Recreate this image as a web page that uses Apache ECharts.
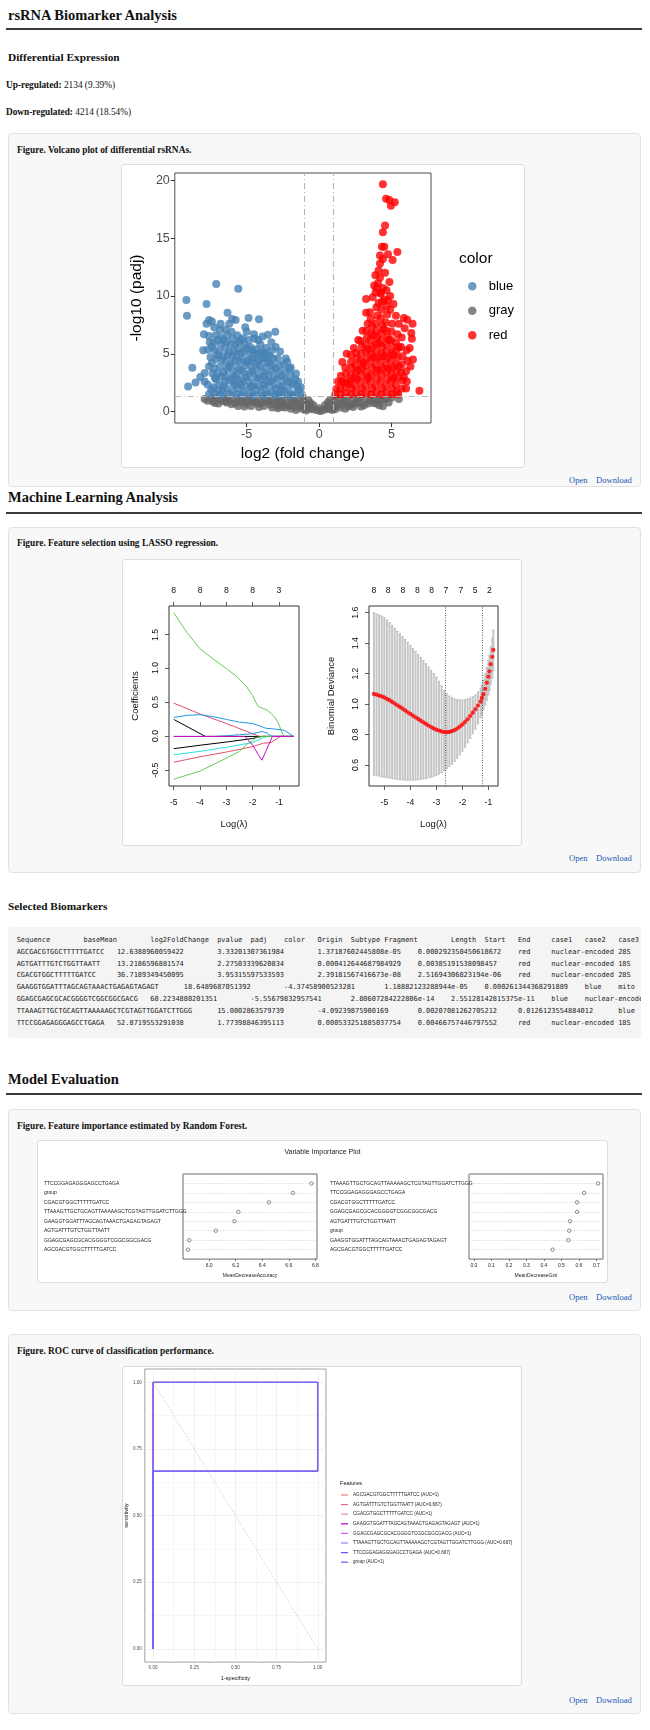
<!DOCTYPE html>
<html><head><meta charset="utf-8">
<script src="https://cdn.jsdelivr.net/npm/echarts@6/dist/echarts.min.js"></script>
<style>
*{box-sizing:border-box;}
html,body{margin:0;padding:0;background:#fff;}
body{position:relative;width:650px;height:1730px;overflow:hidden;font-family:"Liberation Serif","Times New Roman",serif;color:#111;}
.t{position:absolute;white-space:nowrap;line-height:20px;height:20px;}
.h1{font-size:14.5px;font-weight:bold;}
.h3{font-size:11.3px;font-weight:bold;}
.p{font-size:9.3px;}
.rule{position:absolute;left:6px;width:636px;height:2px;background:#3a3a3a;}
.card{position:absolute;left:8px;width:633px;background:#f8f8f8;border:1px solid #e2e2e2;border-radius:4px;}
.cap{font-size:9.4px;font-weight:bold;}
.img{position:absolute;background:#fff;border:1px solid #dcdcdc;border-radius:3px;}
.chart{position:absolute;}
.lnk{font-size:8.6px;color:#2458b3;}
.ylab{position:absolute;font-family:"Liberation Sans",Arial,sans-serif;font-size:8.6px;line-height:10px;color:#111;white-space:nowrap;transform:translate(-50%,-50%) rotate(-90deg);z-index:5;}
#bio{position:absolute;left:8px;top:927px;width:633px;height:111px;margin:0;background:#f4f4f4;border-radius:4px;
 padding:8px 0 0 8.7px;font-family:"DejaVu Sans Mono",monospace;font-size:6.94px;line-height:11.8px;tab-size:8;-moz-tab-size:8;white-space:pre;overflow:hidden;color:#222;}
</style></head>
<body>
<div class="t h1" style="left:8px;top:5px;">rsRNA Biomarker Analysis</div>
<div class="rule" style="top:28px;"></div>
<div class="t h3" style="left:8px;top:47px;">Differential Expression</div>
<div class="t p" style="left:6px;top:75px;"><b>Up-regulated:</b> 2134 (9.39%)</div>
<div class="t p" style="left:6px;top:102px;"><b>Down-regulated:</b> 4214 (18.54%)</div>

<div class="card" style="top:133px;height:354px;"></div>
<div class="t cap" style="left:17px;top:140px;">Figure. Volcano plot of differential rsRNAs.</div>
<div class="img" style="left:121px;top:164px;width:404px;height:304px;"></div>
<div id="c1" class="chart" style="left:121px;top:164px;width:404px;height:304px;"></div>
<div class="t lnk" style="left:569px;top:470px;">Open</div>
<div class="t lnk" style="left:596px;top:470px;">Download</div>

<div class="t h1" style="left:8px;top:487px;">Machine Learning Analysis</div>
<div class="rule" style="top:512px;"></div>
<div class="card" style="top:527px;height:346px;"></div>
<div class="t cap" style="left:17px;top:533px;">Figure. Feature selection using LASSO regression.</div>
<div class="img" style="left:122px;top:559px;width:400px;height:287px;"></div>
<div id="c2" class="chart" style="left:122px;top:559px;width:400px;height:287px;"></div>
<div class="t lnk" style="left:569px;top:848px;">Open</div>
<div class="t lnk" style="left:596px;top:848px;">Download</div>

<div class="t h3" style="left:8px;top:896px;">Selected Biomarkers</div>
<pre id="bio"></pre>

<div class="t h1" style="left:8px;top:1069px;">Model Evaluation</div>
<div class="rule" style="top:1093px;"></div>
<div class="card" style="top:1109px;height:202px;"></div>
<div class="t cap" style="left:17px;top:1116px;">Figure. Feature importance estimated by Random Forest.</div>
<div class="img" style="left:37px;top:1140px;width:571px;height:143px;"></div>
<div id="c3" class="chart" style="left:37px;top:1140px;width:571px;height:143px;"></div>
<div class="t lnk" style="left:569px;top:1287px;">Open</div>
<div class="t lnk" style="left:596px;top:1287px;">Download</div>

<div class="card" style="top:1334px;height:380px;"></div>
<div class="t cap" style="left:17px;top:1341px;">Figure. ROC curve of classification performance.</div>
<div class="img" style="left:122px;top:1366px;width:400px;height:320px;"></div>
<div id="c4" class="chart" style="left:122px;top:1366px;width:400px;height:320px;"></div>
<div class="t lnk" style="left:569px;top:1690px;">Open</div>
<div class="t lnk" style="left:596px;top:1690px;">Download</div>

<script>
// ---------------- Volcano data ----------------
const volcanoXTicks = [-5, 0, 5];
const volcanoYTicks = [0, 5, 10, 15, 20];
const volcanoFcCut = [-1, 1];
const volcanoPadjCut = [1.3];
const volcanoGroups = ['blue', 'gray', 'red'];
const volcanoGray = [[-7.9,1.1],[-7.4,1.2],[-7.35,0.9],[-6.9,1.0],[-6.95,0.7],[-6.45,1.15],[-6.4,0.8],[-6.0,1.05],[-6.05,0.65],[-5.55,1.2],[-5.5,0.85],[-5.6,0.5],[-5.1,1.1],[-5.05,0.7],[-5.15,0.45],[-4.65,1.2],[-4.6,0.85],[-4.7,0.5],[-4.2,1.05],[-4.25,0.7],[-4.15,0.4],[-3.75,1.2],[-3.7,0.85],[-3.8,0.5],[-3.3,1.05],[-3.35,0.65],[-3.25,0.35],[-2.85,1.2],[-2.8,0.9],[-2.9,0.5],[-2.85,0.3],[-2.4,1.05],[-2.45,0.7],[-2.35,0.35],[-1.95,1.2],[-1.9,0.85],[-2.0,0.5],[-1.95,0.25],[-1.5,1.05],[-1.55,0.7],[-1.45,0.35],[-1.1,1.2],[-1.05,0.85],[-1.15,0.5],[-1.1,0.2],[-0.75,1.0],[-0.8,0.6],[-0.7,0.25],[-0.4,0.55],[-0.45,0.2],[0.0,0.3],[0.05,0.05],[0.4,0.55],[0.45,0.2],[0.75,1.0],[0.8,0.6],[0.7,0.25],[1.1,1.25],[1.05,0.85],[1.15,0.45],[1.1,0.2],[1.5,1.1],[1.55,0.7],[1.45,0.35],[1.95,1.2],[1.9,0.85],[2.0,0.45],[2.4,1.1],[2.45,0.7],[2.35,0.4],[2.85,1.2],[2.8,0.8],[2.9,0.45],[3.3,1.05],[3.35,0.7],[3.75,1.15],[3.7,0.75],[4.2,1.0],[4.15,0.55],[4.6,1.1],[5.0,1.2],[5.5,1.1],[4.06,0.98],[4.4,0.46],[4.5,1.1],[-7.1,1.15],[-6.43,0.9],[-0.2,0.15],[0.2,0.1],[-0.55,0.4],[0.6,0.4],[-0.95,0.45],[0.95,0.5],
[-7.7,0.95],[-7.2,0.75],[-6.7,0.95],[-6.2,0.9],[-5.8,0.75],[-5.3,0.95],[-4.9,0.9],[-4.4,0.85],[-4.0,0.75],[-3.5,0.95],[-3.1,0.8],[-2.6,0.85],[-2.2,0.55],[-1.7,0.9],[-1.3,0.6],[-0.9,0.1],[-0.6,0.75],[0.6,0.8],[0.9,0.15],[1.3,0.6],[1.7,0.95],[2.2,0.6],[2.6,0.9],[3.1,0.55],[3.5,0.95],[3.95,0.7],[4.8,0.8],[-1.6,0.15],[-2.6,0.4],[1.8,0.25]];
const volcanoBlue = [[-9.16,9.66],[-9.12,8.3],[-7.1,11.03],[-5.58,10.63],[-7.77,9.31],[-8.75,3.8],[-9.04,2.18],[-8.53,2.53],[-6.32,8.56],[-5.76,7.93],[-4.87,8.1],[-4.15,7.99],[-3.03,6.9],[-3.53,6.64],[-1.96,3.82],[-7.59,7.93],[-7.77,7.6],[-7.9,3.35],[-7.35,3.3],[-7.7,2.35],[-7.1,2.78],[-6.43,3.07],[-7.6,1.5],[-6.65,1.7],
[-7.62,6.55],[-7.55,6.0],[-7.68,5.35],[-7.5,4.7],[-7.6,3.9],
[-7.25,7.3],[-7.15,6.6],[-7.3,5.95],[-7.2,5.3],[-7.1,4.55],[-7.25,3.7],[-7.2,2.9],[-7.3,2.1],[-7.15,1.55],
[-6.85,7.05],[-6.75,6.4],[-6.8,5.8],[-6.9,5.15],[-6.7,4.5],[-6.85,3.9],[-6.75,3.05],[-6.9,2.3],[-6.8,1.45],
[-6.45,7.1],[-6.35,6.6],[-6.4,6.0],[-6.5,5.5],[-6.3,4.9],[-6.45,4.3],[-6.35,3.7],[-6.5,2.6],[-6.4,2.0],
[-6.05,6.9],[-5.95,6.3],[-6.1,5.8],[-5.9,5.2],[-6.0,4.7],[-6.1,4.1],[-5.95,3.5],[-6.05,2.9],[-5.9,2.3],[-6.0,1.7],
[-5.65,6.6],[-5.55,6.0],[-5.6,5.45],[-5.7,4.9],[-5.5,4.35],[-5.6,3.8],[-5.7,3.2],[-5.5,2.6],[-5.6,2.0],[-5.65,1.5],
[-5.25,6.35],[-5.15,5.8],[-5.2,5.2],[-5.3,4.6],[-5.1,4.0],[-5.2,3.4],[-5.3,2.8],[-5.1,2.2],[-5.2,1.65],
[-4.85,6.2],[-4.75,5.6],[-4.8,5.0],[-4.9,4.45],[-4.7,3.9],[-4.8,3.3],[-4.9,2.7],[-4.7,2.1],[-4.8,1.6],
[-4.45,6.3],[-4.35,5.4],[-4.4,4.9],[-4.5,4.3],[-4.3,3.7],[-4.4,3.1],[-4.5,2.5],[-4.3,1.9],[-4.4,1.45],
[-4.05,5.8],[-3.95,5.2],[-4.0,4.6],[-4.1,4.0],[-3.9,3.4],[-4.0,2.8],[-4.1,2.2],[-3.95,1.6],
[-3.65,5.5],[-3.55,4.9],[-3.6,4.3],[-3.7,3.8],[-3.5,3.2],[-3.6,2.6],[-3.7,2.0],[-3.55,1.5],
[-3.25,5.3],[-3.15,4.6],[-3.2,4.0],[-3.3,3.5],[-3.1,2.9],[-3.2,2.3],[-3.3,1.7],
[-2.85,4.6],[-2.75,4.0],[-2.8,3.4],[-2.9,2.8],[-2.7,2.2],[-2.8,1.6],
[-2.45,4.1],[-2.35,3.5],[-2.4,2.9],[-2.5,2.3],[-2.35,1.7],
[-2.05,3.7],[-1.95,3.1],[-2.0,2.5],[-2.1,1.9],[-1.95,1.45],
[-1.65,2.8],[-1.55,2.2],[-1.6,1.6],[-1.25,2.1],[-1.2,1.5],
[-7.95,6.7],[-8.0,5.3],[-6.0,8.0],[-6.8,7.6],[-5.1,7.3],[-4.5,6.7],[-3.9,6.5],[-3.3,6.0],[-2.7,5.2],[-2.3,4.6],[-1.6,3.3],[-5.0,6.9],[-6.2,7.6],[-7.4,7.8],[-4.2,6.2],[-3.0,5.6],[-2.2,4.3],[-1.45,2.6],[-7.9,2.6],[-7.0,3.3],[-6.6,2.2],[-5.8,2.4],[-8.2,3.0],[-7.45,1.9],[-6.95,1.8],[-6.2,1.5],[-5.3,1.45],[-4.6,1.4],[-3.8,1.4],[-3.0,1.42],[-2.55,1.4],[-1.8,1.4],[-1.4,1.9],
[-6.6,4.8],[-6.6,3.4],[-6.2,5.2],[-6.2,3.9],[-6.2,2.7],[-5.8,4.4],[-5.8,3.0],[-5.4,5.1],[-5.4,3.6],[-5.4,2.3],[-5.0,4.3],[-5.0,3.0],[-4.6,4.6],[-4.6,3.5],[-4.6,2.2],[-4.2,4.3],[-4.2,2.9],[-3.8,4.6],[-3.8,3.1],[-3.8,2.3],[-3.4,4.2],[-3.4,2.6],[-3.0,3.7],[-3.0,2.0],[-2.6,3.1],[-2.6,1.9],[-2.2,2.6],[-1.8,2.4],[-7.0,6.2],[-7.0,4.9],[-7.4,5.6],[-7.4,4.2],[-6.6,6.2],[-5.8,5.8],[-5.4,6.2],[-5.0,5.5],[-4.6,5.3],[-4.2,5.0],[-3.8,5.1],[-3.4,4.8]];
const volcanoRed = [[1.12,1.5],[1.18,1.95],
[1.5,1.5],[1.45,2.0],[1.55,2.6],[1.5,3.1],
[1.85,1.6],[1.8,2.1],[1.9,2.7],[1.85,3.3],[1.8,3.8],
[2.2,1.5],[2.25,2.0],[2.15,2.6],[2.2,3.2],[2.25,3.8],[2.2,4.3],
[2.55,1.6],[2.5,2.2],[2.6,2.8],[2.55,3.4],[2.5,4.0],[2.6,4.6],[2.55,5.1],
[2.9,1.5],[2.95,2.0],[2.85,2.6],[2.9,3.2],[2.95,3.8],[2.85,4.4],[2.9,5.0],[2.95,5.6],[2.85,6.1],
[3.25,1.6],[3.2,2.2],[3.3,2.8],[3.25,3.4],[3.2,4.0],[3.3,4.6],[3.25,5.2],[3.2,5.8],[3.3,6.4],[3.25,7.0],
[3.6,1.5],[3.65,2.0],[3.55,2.6],[3.6,3.2],[3.65,3.8],[3.55,4.4],[3.6,5.0],[3.65,5.6],[3.55,6.2],[3.6,6.8],[3.65,7.4],[3.55,8.0],
[3.95,1.6],[3.9,2.2],[4.0,2.8],[3.95,3.4],[3.9,4.0],[4.0,4.6],[3.95,5.2],[3.9,5.8],[4.0,6.4],[3.95,7.0],[3.9,7.6],[4.0,8.3],[3.95,9.0],
[4.3,1.5],[4.35,2.0],[4.25,2.6],[4.3,3.2],[4.35,3.8],[4.25,4.4],[4.3,5.0],[4.35,5.6],[4.25,6.2],[4.3,6.8],[4.35,7.5],[4.25,8.1],[4.3,8.8],[4.35,9.5],[4.25,10.2],
[4.65,1.6],[4.6,2.2],[4.7,2.8],[4.65,3.4],[4.6,4.0],[4.7,4.6],[4.65,5.2],[4.6,5.8],[4.7,6.4],[4.65,7.0],[4.6,7.7],[4.7,8.4],[4.65,9.1],
[5.0,1.5],[5.05,2.0],[4.95,2.6],[5.0,3.2],[5.05,3.8],[4.95,4.4],[5.0,5.0],[5.05,5.6],[4.95,6.2],[5.0,6.9],[5.05,7.6],
[5.35,1.7],[5.3,2.3],[5.4,2.9],[5.35,3.5],[5.3,4.1],[5.4,4.7],[5.35,5.3],[5.3,6.0],[5.4,6.7],
[5.7,2.0],[5.75,2.7],[5.65,3.4],[5.7,4.1],[5.75,4.8],[5.65,5.6],[5.7,6.4],
[6.05,2.6],[6.0,3.5],[6.1,4.4],[6.05,5.3],
[4.4,19.65],[4.62,18.4],[4.84,18.3],[5.22,18.1],[4.95,17.8],[4.55,16.1],[4.4,15.5],[4.33,14.25],[4.5,14.25],[5.4,13.8],[4.2,13.5],[4.75,13.6],[5.07,13.1],[4.4,13.2],[4.2,12.8],[3.88,11.8],[4.2,11.6],[4.06,11.1],[3.97,10.7],[4.4,10.7],[4.25,10.3],[3.24,9.74],[4.5,9.7],[5.13,9.3],[4.75,9.6],[3.24,8.55],[5.85,8.1],[6.08,7.95],[6.45,7.6],[6.36,6.8],[6.47,4.5],[6.25,5.5],[6.92,1.8],[5.45,1.5],[3.7,9.9],[4.1,9.4],[3.5,8.6],[4.9,8.8],[5.5,7.6],[3.0,7.0],[2.7,6.2],[2.2,4.9],[1.6,4.3],[1.9,5.0],[3.9,10.3],[4.65,10.5],[4.85,11.2],[5.3,8.3],[5.9,7.2],[6.4,6.3],[6.3,3.9],[6.0,2.0],[4.1,12.2],[4.55,12.0],[3.8,10.9],[4.9,10.0],[3.35,7.6],[2.4,5.5],[1.3,2.6],
[2.4,2.9],[2.7,3.6],[3.05,4.2],[3.4,3.0],[3.4,5.4],[3.75,4.7],[3.75,6.6],[4.1,3.6],[4.1,5.9],[4.45,4.8],[4.45,7.1],[4.8,3.7],[4.8,6.2],[5.15,4.9],[5.15,2.9],[5.5,3.9],[5.5,5.6],[5.85,3.0],[2.05,2.4],[1.7,2.5]];

// ---------------- LASSO data ----------------
const lassoXTicks = [-5, -4, -3, -2, -1];
const lassoTopPos = [-5, -4, -3, -2, -1];
const lassoTopLabels = ['8', '8', '8', '8', '3'];
const lassoYTicks = [-0.5, 0, 0.5, 1, 1.5];
const lassoColors = ['#000000','#DF536B','#61D04F','#2297E6','#28E2E5','#CD0BBC','#000000','#DF536B','#61D04F','#2297E6'];
const lassoPath1 = [[-5,0.25],[-3.8,0],[-0.44,0]];
const lassoPath2 = [[-5,0.49],[-4,0.33],[-3,0.19],[-2.2,0.07],[-1.75,0],[-0.44,0]];
const lassoPath3 = [[-5,1.82],[-4.5,1.53],[-4.0,1.29],[-3.5,1.14],[-3.0,1.0],[-2.6,0.88],[-2.23,0.73],[-2.0,0.6],[-1.85,0.48],[-1.78,0.44],[-1.6,0.41],[-1.46,0.39],[-1.3,0.34],[-1.14,0.27],[-1.03,0.2],[-0.95,0.12],[-0.88,0.05],[-0.82,0],[-0.44,0]];
const lassoPath4 = [[-5,0.28],[-4.5,0.31],[-4,0.32],[-3.5,0.29],[-3,0.25],[-2.5,0.21],[-2,0.19],[-1.7,0.15],[-1.5,0.12],[-1.2,0.11],[-0.8,0.09],[-0.44,0]];
const lassoPath5 = [[-5,-0.27],[-4,-0.22],[-3,-0.16],[-2,-0.09],[-1.6,-0.02],[-1.45,0],[-0.44,0]];
const lassoPath6 = [[-5,0],[-2.3,0],[-2.0,-0.13],[-1.8,-0.26],[-1.65,-0.35],[-1.5,-0.22],[-1.25,0],[-0.44,0]];
const lassoPath7 = [[-5,-0.18],[-4,-0.13],[-3,-0.083],[-2,-0.03],[-1.65,0],[-0.44,0]];
const lassoPath8 = [[-5,-0.38],[-4,-0.3],[-3,-0.23],[-2,-0.15],[-1.6,-0.1],[-1.3,-0.09],[-0.95,0],[-0.44,0]];
const lassoPath9 = [[-5,-0.63],[-4,-0.51],[-3,-0.32],[-2.5,-0.22],[-2.23,-0.12],[-2,-0.06],[-1.85,-0.015],[-1.6,0],[-0.44,0]];
const lassoPath10 = [[-5,0],[-3.5,0],[-3,0.01],[-2.5,0.025],[-2,0.04],[-1.65,0.073],[-1.45,0.05],[-1.27,0],[-0.44,0]];
const lassoPaths = [lassoPath1,lassoPath2,lassoPath3,lassoPath4,lassoPath5,lassoPath6,lassoPath7,lassoPath8,lassoPath9,lassoPath10];

const cvXTicks = [-5, -4, -3, -2, -1];
const cvYTicks = [0.6, 0.8, 1.0, 1.2, 1.4, 1.6];
const cvTopPos = [-5.40, -4.85, -4.29, -3.73, -3.18, -2.63, -2.06, -1.51, -0.96];
const cvTopLabels = ['8','8','8','8','8','7','7','5','2'];
const cvLambdaLines = [-2.65, -1.23];
const cvLogLambda = [-5.4,-5.3,-5.2,-5.1,-5.0,-4.9,-4.8,-4.7,-4.6,-4.5,-4.4,-4.3,-4.2,-4.1,-4.0,-3.9,-3.8,-3.7,-3.6,-3.5,-3.4,-3.3,-3.2,-3.1,-3.0,-2.9,-2.8,-2.7,-2.6,-2.5,-2.4,-2.3,-2.2,-2.1,-2.0,-1.9,-1.8,-1.7,-1.6,-1.5,-1.4,-1.3,-1.25,-1.19,-1.12,-1.06,-1.0,-0.96,-0.91,-0.85,-0.81];
const cvMean = [1.066,1.062,1.056,1.050,1.043,1.034,1.025,1.014,1.003,0.992,0.981,0.970,0.958,0.946,0.935,0.924,0.913,0.902,0.891,0.880,0.869,0.859,0.849,0.840,0.832,0.826,0.820,0.816,0.815,0.817,0.822,0.829,0.839,0.852,0.866,0.882,0.900,0.921,0.943,0.966,0.990,1.016,1.040,1.065,1.100,1.140,1.180,1.215,1.262,1.310,1.355];
const cvUpper = [1.600,1.592,1.585,1.578,1.568,1.552,1.535,1.516,1.497,1.478,1.462,1.443,1.425,1.405,1.386,1.366,1.346,1.326,1.306,1.286,1.265,1.243,1.222,1.200,1.177,1.150,1.120,1.090,1.068,1.053,1.042,1.034,1.029,1.027,1.027,1.029,1.034,1.040,1.048,1.060,1.080,1.105,1.125,1.158,1.200,1.240,1.285,1.320,1.375,1.430,1.486];
const cvLower = [0.534,0.530,0.527,0.522,0.519,0.516,0.514,0.511,0.508,0.505,0.503,0.502,0.500,0.500,0.500,0.500,0.502,0.503,0.505,0.508,0.511,0.515,0.520,0.525,0.532,0.540,0.550,0.562,0.575,0.590,0.605,0.623,0.644,0.666,0.690,0.716,0.745,0.775,0.805,0.836,0.870,0.910,0.935,0.962,0.992,1.025,1.060,1.090,1.130,1.170,1.220];

// ---------------- Table data ----------------
const bioHeader = ['Sequence','baseMean','log2FoldChange','pvalue','padj','color','Origin','Subtype','Fragment','Length','Start','End','case1','case2','case3'];
const bioRow1 = ['AGCGACGTGGCTTTTTGATCC','12.6388960059422','3.33201307361984','1.37187602445808e-05','0.000292350450618672','red','nuclear-encoded','28S'];
const bioRow2 = ['AGTGATTTGTCTGGTTAATT','13.2186596881574','2.27503339620834','0.000412644687984929','0.00385191538098457','red','nuclear-encoded','18S'];
const bioRow3 = ['CGACGTGGCTTTTTGATCC','36.7189349450095','3.95315597533593','2.39181567416673e-08','2.51694306823194e-06','red','nuclear-encoded','28S'];
const bioRow4 = ['GAAGGTGGATTTAGCAGTAAACTGAGAGTAGAGT','18.6489687051392','-4.37458900523281','1.18882123288944e-05','0.000261344368291889','blue','mito'];
const bioRow5 = ['GGAGCGAGCGCACGGGGTCGGCGGCGACG','60.2234880201351','-5.55679832957541','2.80607284222806e-14','2.55128142815375e-11','blue','nuclear-encoded'];
const bioRow6 = ['TTAAAGTTGCTGCAGTTAAAAAGCTCGTAGTTGGATCTTGGG','15.0002863579739','-4.09239875900169','0.00207081262705212','0.0126123554884012','blue'];
const bioRow7 = ['TTCCGGAGAGGGAGCCTGAGA','52.8719553291038','1.77398846395113','0.000533251885037754','0.00466757446797552','red','nuclear-encoded','18S'];

// ---------------- Random forest data ----------------
const rfAccNames = ['TTCCGGAGAGGGAGCCTGAGA','group','CGACGTGGCTTTTTGATCC','TTAAAGTTGCTGCAGTTAAAAAGCTCGTAGTTGGATCTTGGG','GAAGGTGGATTTAGCAGTAAACTGAGAGTAGAGT','AGTGATTTGTCTGGTTAATT','GGAGCGAGCGCACGGGGTCGGCGGCGACG','AGCGACGTGGCTTTTTGATCC'];
const rfAccValues = [6.77, 6.63, 6.45, 6.22, 6.19, 6.05, 5.85, 5.84];
const rfGiniNames = ['TTAAAGTTGCTGCAGTTAAAAAGCTCGTAGTTGGATCTTGGG','TTCCGGAGAGGGAGCCTGAGA','CGACGTGGCTTTTTGATCC','GGAGCGAGCGCACGGGGTCGGCGGCGACG','AGTGATTTGTCTGGTTAATT','group','GAAGGTGGATTTAGCAGTAAACTGAGAGTAGAGT','AGCGACGTGGCTTTTTGATCC'];
const rfGiniValues = [0.71, 0.63, 0.59, 0.59, 0.55, 0.545, 0.54, 0.45];
const rfAccTicks = [6.0, 6.2, 6.4, 6.6, 6.8];
const rfGiniTicks = [0, 0.1, 0.2, 0.3, 0.4, 0.5, 0.6, 0.7];

// ---------------- ROC data ----------------
const rocFeatures = ['AGCGACGTGGCTTTTTGATCC','AGTGATTTGTCTGGTTAATT','CGACGTGGCTTTTTGATCC','GAAGGTGGATTTAGCAGTAAACTGAGAGTAGAGT','GGAGCGAGCGCACGGGGTCGGCGGCGACG','TTAAAGTTGCTGCAGTTAAAAAGCTCGTAGTTGGATCTTGGG','TTCCGGAGAGGGAGCCTGAGA','group'];
const rocAuc = ['1','0.667','1','1','1','0.667','0.667','1'];
const rocColors = ['#F08C8C','#E0708A','#EE90C8','#BA10CC','#C86AF2','#A08CF2','#5E58FF','#6A6AFF'];
const rocFpr = [[0,0,1],[0,0,1,1],[0,0,1],[0,0,1],[0,0,1],[0,0,1,1],[0,0,1,1],[0,0,1]];
const rocTpr = [[0,1,1],[0,0.667,0.667,1],[0,1,1],[0,1,1],[0,1,1],[0,0.667,0.667,1],[0,0.667,0.667,1],[0,1,1]];
const rocChance = [[0,1],[1,0]];
const rocTicks = [0, 0.25, 0.5, 0.75, 1];
const rocGridVals = [0, 0.125, 0.25, 0.375, 0.5, 0.625, 0.75, 0.875, 1];

// ====================================================
const SANS = '"Liberation Sans", Arial, sans-serif';

document.getElementById('bio').textContent =
  [bioHeader, bioRow1, bioRow2, bioRow3, bioRow4, bioRow5, bioRow6, bioRow7].map(r => r.join('\t')).join('\n');

// ---------- Volcano ----------
(function(){
  const ch = echarts.init(document.getElementById('c1'));
  ch.setOption({
    animation: false,
    textStyle: {fontFamily: SANS},
    grid: {left: 47, top: 9, width: 263, height: 250, show: true, borderColor: '#4d4d4d', borderWidth: 1, backgroundColor: 'transparent'},
    title: {text: 'color', left: 333, top: 82, textStyle: {fontSize: 15.5, fontWeight: 'normal', color: '#000', fontFamily: SANS}},
    legend: {orient: 'vertical', left: 342, top: 110, data: volcanoGroups, icon: 'circle', itemWidth: 8.5, itemHeight: 8.5, itemGap: 10,
      formatter: '  {name}', textStyle: {fontSize: 13, color: '#000', lineHeight: 14.5, fontFamily: SANS}},
    xAxis: {type: 'value', min: -9.96, max: 7.72, name: 'log2 (fold change)', nameLocation: 'middle', nameGap: 22,
      nameTextStyle: {fontSize: 15.5, color: '#000'},
      axisLine: {show: false, onZero: false}, splitLine: {show: false},
      axisTick: {customValues: volcanoXTicks, length: 4, lineStyle: {color: '#333'}},
      axisLabel: {customValues: volcanoXTicks, fontSize: 12.5, color: '#4d4d4d', margin: 5}},
    yAxis: {type: 'value', min: -0.98, max: 20.63, name: '-log10 (padj)', nameLocation: 'middle', nameGap: 24,
      nameTextStyle: {fontSize: 15.5, color: '#000'},
      axisLine: {show: false, onZero: false}, splitLine: {show: false},
      axisTick: {customValues: volcanoYTicks, length: 4, lineStyle: {color: '#333'}},
      axisLabel: {customValues: volcanoYTicks, fontSize: 12.5, color: '#4d4d4d', margin: 5}},
    series: [
      {type: 'scatter', name: 'gray', data: volcanoGray, symbolSize: 8, itemStyle: {color: '#666666', opacity: 0.8}},
      {type: 'scatter', name: 'blue', data: volcanoBlue, symbolSize: 8, itemStyle: {color: '#4682B4', opacity: 0.8}},
      {type: 'scatter', name: 'red', data: volcanoRed, symbolSize: 8, itemStyle: {color: '#FF0000', opacity: 0.8},
        markLine: {silent: true, symbol: 'none', label: {show: false}, animation: false,
          lineStyle: {color: '#b5b5b5', type: [6, 3, 1, 3], width: 1.1},
          data: volcanoFcCut.map(v => ({xAxis: v})).concat(volcanoPadjCut.map(v => ({yAxis: v})))}}
    ]
  });
})();

// ---------- LASSO ----------
(function(){
  const el = document.getElementById('c2');
  const ch = echarts.init(el);
  const lab = (pos, labels) => v => { const i = pos.findIndex(p => Math.abs(p - v) < 1e-6); return i >= 0 ? labels[i] : ''; };
  const tickStyle = {length: 4, lineStyle: {color: '#333', width: 0.8}};
  const noLine = {show: false, onZero: false};
  const fs = 8.6;
  const series = lassoPaths.map((p, i) => ({type: 'line', data: p, xAxisIndex: 0, yAxisIndex: 0, symbol: 'none',
      lineStyle: {color: lassoColors[i], width: 1}, z: 2 + (i === 5 ? 1 : 0)}));
  series.push({type: 'custom', xAxisIndex: 2, yAxisIndex: 1, encode: {x: 0, y: [1, 2]},
    data: cvLogLambda.map((x, i) => [x, cvLower[i], cvUpper[i]]),
    renderItem: (params, api) => {
      const x = api.value(0), p1 = api.coord([x, api.value(1)]), p2 = api.coord([x, api.value(2)]);
      return {type: 'group', children: [
        {type: 'line', shape: {x1: p1[0], y1: p1[1], x2: p2[0], y2: p2[1]}, style: {stroke: '#c6c6c6', lineWidth: 2}},
        {type: 'line', shape: {x1: p1[0] - 1.2, y1: p1[1], x2: p1[0] + 1.2, y2: p1[1]}, style: {stroke: '#b0b0b0', lineWidth: 0.7}},
        {type: 'line', shape: {x1: p2[0] - 1.2, y1: p2[1], x2: p2[0] + 1.2, y2: p2[1]}, style: {stroke: '#b0b0b0', lineWidth: 0.7}}
      ]};
    }});
  series.push({type: 'scatter', xAxisIndex: 2, yAxisIndex: 1, data: cvLogLambda.map((x, i) => [x, cvMean[i]]),
    symbolSize: 4.3, itemStyle: {color: '#ff0000'}, z: 5,
    markLine: {silent: true, symbol: 'none', label: {show: false}, lineStyle: {color: '#333', type: [1, 1.5], width: 0.8},
      data: cvLambdaLines.map(v => ({xAxis: v}))}});
  ch.setOption({
    animation: false,
    textStyle: {fontFamily: SANS},
    grid: [
      {left: 47, top: 47, width: 130, height: 180, show: true, borderColor: '#333', borderWidth: 1},
      {left: 247, top: 47, width: 129, height: 180, show: true, borderColor: '#333', borderWidth: 1}
    ],
    xAxis: [
      {gridIndex: 0, type: 'value', position: 'bottom', min: -5.18, max: -0.24, name: 'Log(λ)', nameLocation: 'middle', nameGap: 33,
        nameTextStyle: {fontSize: 9.5, color: '#111'}, axisLine: noLine, splitLine: {show: false},
        axisTick: Object.assign({customValues: lassoXTicks}, tickStyle),
        axisLabel: {customValues: lassoXTicks, fontSize: fs, color: '#111', margin: 12}},
      {gridIndex: 0, type: 'value', position: 'top', min: -5.18, max: -0.24, axisLine: noLine, splitLine: {show: false},
        axisTick: Object.assign({customValues: lassoTopPos}, tickStyle),
        axisLabel: {customValues: lassoTopPos, formatter: lab(lassoTopPos, lassoTopLabels), fontSize: fs, color: '#111', margin: 11}},
      {gridIndex: 1, type: 'value', position: 'bottom', min: -5.59, max: -0.63, name: 'Log(λ)', nameLocation: 'middle', nameGap: 33,
        nameTextStyle: {fontSize: 9.5, color: '#111'}, axisLine: noLine, splitLine: {show: false},
        axisTick: Object.assign({customValues: cvXTicks}, tickStyle),
        axisLabel: {customValues: cvXTicks, fontSize: fs, color: '#111', margin: 12}},
      {gridIndex: 1, type: 'value', position: 'top', min: -5.59, max: -0.63, axisLine: noLine, splitLine: {show: false},
        axisTick: {show: false},
        axisLabel: {customValues: cvTopPos, formatter: lab(cvTopPos, cvTopLabels), fontSize: fs, color: '#111', margin: 11}}
    ],
    yAxis: [
      {gridIndex: 0, type: 'value', position: 'left', min: -0.73, max: 1.92, name: 'Coefficients', nameLocation: 'middle', nameGap: 29,
        nameTextStyle: {fontSize: 9.5, color: '#111'}, axisLine: noLine, splitLine: {show: false},
        axisTick: Object.assign({customValues: lassoYTicks}, tickStyle),
        axisLabel: {show: false}},
      {gridIndex: 1, type: 'value', position: 'left', min: 0.462, max: 1.644, name: 'Binomial Deviance', nameLocation: 'middle', nameGap: 33,
        nameTextStyle: {fontSize: 9.5, color: '#111'}, axisLine: noLine, splitLine: {show: false},
        axisTick: Object.assign({customValues: cvYTicks}, tickStyle),
        axisLabel: {customValues: cvYTicks, rotate: 90, formatter: v => v.toFixed(1), fontSize: fs, color: '#111', margin: 9}}
    ],
    series: series
  });
  // tick labels of the coefficient axis, positioned through the axis scale
  const xLeft = ch.convertToPixel({xAxisIndex: 0}, -5.18);
  const baseX = parseFloat(el.style.left), baseY = parseFloat(el.style.top);
  lassoYTicks.forEach(v => {
    const py = ch.convertToPixel({yAxisIndex: 0}, v);
    if (!isFinite(py) || !isFinite(xLeft)) return;
    const d = document.createElement('div');
    d.className = 'ylab';
    d.textContent = v.toFixed(1);
    d.style.left = (baseX + xLeft - 14) + 'px';
    d.style.top = (baseY + py) + 'px';
    document.body.appendChild(d);
  });
})();

// ---------- Random forest ----------
(function(){
  const ch = echarts.init(document.getElementById('c3'));
  const n = rfAccNames.length;
  const nameFmt = names => v => (v >= 1 && v <= n && Math.abs(v - Math.round(v)) < 1e-6) ? names[n - Math.round(v)] : '';
  const yAx = (gi, names) => ({gridIndex: gi, type: 'value', min: 0, max: n + 1, interval: 1,
    axisLine: {show: false, onZero: false}, axisTick: {show: false},
    splitLine: {show: true, lineStyle: {color: '#b5b5b5', type: [1, 1.5], width: 0.6}},
    axisLabel: {formatter: nameFmt(names), align: 'left', margin: 139, fontSize: 5, color: '#222'}});
  const xAx = (gi, min, max, ticks, name, dec) => ({gridIndex: gi, type: 'value', min: min, max: max,
    name: name, nameLocation: 'middle', nameGap: 11, nameTextStyle: {fontSize: 5, color: '#222'},
    axisLine: {show: false, onZero: false}, splitLine: {show: false},
    axisTick: {customValues: ticks, length: 2, lineStyle: {color: '#333', width: 0.6}},
    axisLabel: {customValues: ticks, formatter: v => v.toFixed(dec), fontSize: 5, color: '#222', margin: 4}});
  const pt = {symbol: 'circle', symbolSize: 3.4, itemStyle: {color: '#fff', borderColor: '#333', borderWidth: 0.7}};
  ch.setOption({
    animation: false,
    textStyle: {fontFamily: SANS},
    title: {text: 'Variable Importance Plot', left: 'center', top: 4, textStyle: {fontSize: 7, fontWeight: 'normal', color: '#222', fontFamily: SANS}},
    grid: [
      {left: 146, top: 34, width: 134, height: 86, show: true, borderColor: '#444', borderWidth: 0.8},
      {left: 432, top: 34, width: 134, height: 86, show: true, borderColor: '#444', borderWidth: 0.8}
    ],
    xAxis: [xAx(0, 5.803, 6.812, rfAccTicks, 'MeanDecreaseAccuracy', 1), xAx(1, -0.028, 0.738, rfGiniTicks, 'MeanDecreaseGini', 1)],
    yAxis: [yAx(0, rfAccNames), yAx(1, rfGiniNames)],
    series: [
      Object.assign({type: 'scatter', xAxisIndex: 0, yAxisIndex: 0, data: rfAccValues.map((v, i) => [v, n - i])}, pt),
      Object.assign({type: 'scatter', xAxisIndex: 1, yAxisIndex: 1, data: rfGiniValues.map((v, i) => [v, n - i])}, pt)
    ]
  });
})();

// ---------- ROC ----------
(function(){
  const ch = echarts.init(document.getElementById('c4'));
  const names = rocFeatures.map((f, i) => f + ' (AUC=' + rocAuc[i] + ')');
  const ax = (name, gap) => ({type: 'value', min: -0.05, max: 1.05, name: name, nameLocation: 'middle', nameGap: gap,
    nameTextStyle: {fontSize: 5.6, color: '#111'},
    axisLine: {show: false, onZero: false},
    axisTick: {show: false, customValues: rocGridVals},
    splitLine: {show: true, lineStyle: {color: ['#e6e6e6', '#f2f2f2'], width: 0.6}},
    axisLabel: {customValues: rocTicks, formatter: v => v.toFixed(2), fontSize: 4.6, color: '#4d4d4d', margin: 3}});
  const series = rocFeatures.map((f, i) => ({type: 'line', name: names[i], symbol: 'none',
    data: rocFpr[i].map((x, j) => [x, rocTpr[i][j]]), lineStyle: {color: rocColors[i], width: i >= 6 ? 1.2 : 0.9}, itemStyle: {color: rocColors[i]}}));
  series.unshift({type: 'line', name: 'chance', data: rocChance, symbol: 'none', silent: true,
    lineStyle: {color: '#b0b0b0', width: 0.5, type: [2, 1.5]}});
  ch.setOption({
    animation: false,
    textStyle: {fontFamily: SANS},
    grid: {left: 22, top: 3, width: 182, height: 299, show: true, borderColor: '#8a8a8a', borderWidth: 0.8},
    title: {text: 'Features', left: 213, top: 109, textStyle: {fontSize: 5.6, fontWeight: 'normal', color: '#111', fontFamily: SANS}},
    legend: {orient: 'vertical', left: 214, top: 121, data: names, icon: 'rect', itemWidth: 7, itemHeight: 1.3, itemGap: 3.6,
      textStyle: {fontSize: 4.6, lineHeight: 6, color: '#222', fontFamily: SANS}},
    xAxis: ax('1-specificity', 8),
    yAxis: ax('sensitivity', 14),
    series: series
  });
})();
</script>
</body></html>
